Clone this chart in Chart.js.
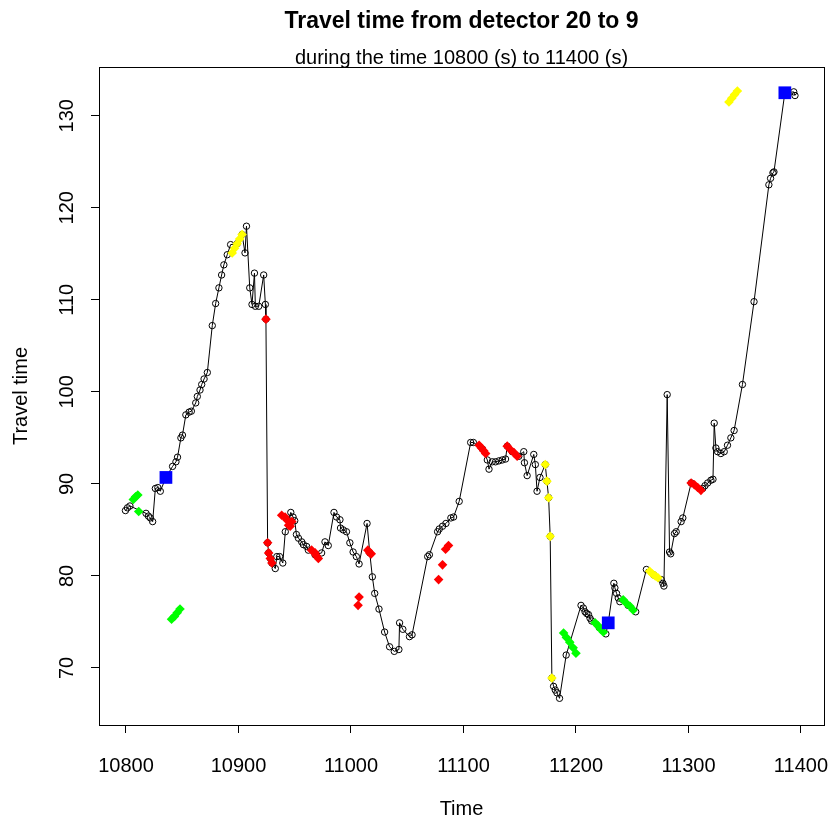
<!DOCTYPE html>
<html>
<head>
<meta charset="utf-8">
<script src="https://cdn.jsdelivr.net/npm/chart.js@4.4.0/dist/chart.umd.min.js"></script>
<style>
  html, body { margin: 0; padding: 0; background: #fff; }
  #wrap { width: 833px; height: 821px; }
</style>
</head>
<body>
<div id="wrap"><canvas id="chart"></canvas></div>
<script>
// axis ticks
const xTicks = [10800, 10900, 11000, 11100, 11200, 11300, 11400]
const yTicks = [70, 80, 90, 100, 110, 120, 130]

// travel time series (black line + open circles)
const blackTime = [
  10799.5, 10801.3, 10803.5, 10817.8, 10819.9, 10821.6, 10823.7, 10826.1, 10828.3, 10830.5,
  10835.5, 10841.4, 10844.4, 10845.8, 10848.8, 10850.2, 10853.2, 10856.1, 10858.1, 10862.0,
  10863.4, 10865.8, 10867.3, 10869.4, 10872.3, 10876.7, 10879.7, 10882.6, 10885.0, 10887.0,
  10890.0, 10893.0, 10898.8, 10903.2, 10905.8, 10907.1, 10910.0, 10912.0, 10914.2, 10915.0,
  10918.0, 10922.4, 10923.9, 10924.4, 10925.9, 10926.8, 10928.3, 10929.7, 10932.7, 10934.1,
  10936.5, 10939.4, 10941.6, 10946.5, 10948.5, 10950.0, 10951.5, 10953.3, 10956.2, 10957.7,
  10960.6, 10962.1, 10968.0, 10973.9, 10976.9, 10979.8, 10984.9, 10987.2, 10990.2, 10990.7,
  10993.1, 10996.0, 10999.0, 11001.9, 11004.8, 11007.2, 11014.3, 11016.7, 11019.0, 11021.1,
  11024.9, 11029.9, 11034.3, 11038.5, 11042.6, 11043.2, 11046.1, 11052.0, 11054.3, 11068.2,
  11069.7, 11077.0, 11078.5, 11081.4, 11084.4, 11088.8, 11091.2, 11096.2, 11106.4, 11108.8,
  11116.8, 11121.2, 11122.7, 11125.6, 11128.5, 11131.5, 11134.5, 11137.4, 11138.9, 11143.3,
  11149.2, 11153.6, 11154.2, 11156.6, 11162.5, 11163.9, 11165.4, 11168.0, 11172.7, 11174.2,
  11175.7, 11177.1, 11178.6, 11180.1, 11181.6, 11183.1, 11185.4, 11191.3, 11204.5, 11206.6,
  11208.1, 11209.6, 11211.1, 11212.5, 11214.0, 11220.6, 11226.6, 11228.7, 11233.7, 11234.6,
  11236.1, 11237.6, 11239.0, 11246.4, 11253.1, 11262.6, 11269.2, 11275.8, 11277.3, 11278.2,
  11281.1, 11283.2, 11284.2, 11287.6, 11289.1, 11293.5, 11295.0, 11302.4, 11312.7, 11314.7,
  11317.1, 11320.0, 11321.8, 11322.9, 11324.4, 11325.9, 11328.8, 11331.8, 11334.7, 11337.7,
  11340.6, 11348.0, 11358.3, 11371.5, 11373.0, 11375.1, 11376.0, 11385.7, 11393.6, 11394.7
]
const blackTravel = [
  87.1, 87.4, 87.6, 86.8, 86.5, 86.3, 85.9, 89.5, 89.6, 89.2,
  90.7, 91.9, 92.4, 92.9, 95.0, 95.3, 97.5, 97.8, 97.9, 98.8,
  99.5, 100.2, 100.8, 101.4, 102.1, 107.2, 109.6, 111.3, 112.7, 113.8,
  114.9, 116.0, 116.1, 117.1, 115.1, 118.0, 111.3, 109.5, 112.9, 109.3,
  109.3, 112.7, 109.5, 107.9, 83.6, 82.5, 81.9, 81.4, 80.8, 82.1,
  82.1, 81.4, 84.8, 86.9, 86.4, 86.0, 84.5, 84.1, 83.7, 83.4,
  83.2, 82.8, 82.3, 82.5, 83.7, 83.3, 86.9, 86.4, 86.1, 85.2,
  85.0, 84.8, 83.6, 82.6, 82.1, 81.3, 85.7, 82.5, 79.9, 78.1,
  76.4, 73.9, 72.3, 71.8, 72.0, 74.9, 74.2, 73.4, 73.6, 82.1,
  82.3, 84.8, 85.1, 85.4, 85.7, 86.3, 86.4, 88.1, 94.5, 94.5,
  93.8, 92.6, 91.6, 92.4, 92.4, 92.5, 92.6, 92.7, 94.1, 93.5,
  93.0, 93.5, 92.3, 90.9, 93.2, 92.1, 89.2, 90.7, 92.1, 90.3,
  88.5, 84.3, 68.9, 68.0, 67.6, 67.3, 66.7, 71.4, 76.8, 76.5,
  76.1, 75.9, 75.8, 75.4, 75.1, 74.4, 73.7, 74.9, 79.2, 78.7,
  78.1, 77.6, 77.2, 76.8, 76.1, 80.7, 80.1, 79.6, 79.2, 78.9,
  99.7, 82.6, 82.4, 84.6, 84.8, 85.9, 86.3, 90.1, 89.5, 89.8,
  90.1, 90.4, 90.5, 96.6, 93.9, 93.5, 93.3, 93.5, 94.2, 95.0,
  95.8, 100.8, 109.8, 122.5, 123.2, 123.8, 123.9, 132.5, 132.6, 132.2
]

// highlighted points
const greenTime = [10806.5, 10808.5, 10810.5, 10811.3, 10840.5, 10843.0, 10845.5, 10848.0,
  11189.0, 11191.5, 11194.5, 11197.5, 11200.0, 11217.0, 11219.5, 11222.0, 11224.3,
  11242.0, 11245.0, 11248.0, 11250.8]
const greenTravel = [88.3, 88.6, 88.8, 87.0, 75.3, 75.6, 76.0, 76.4,
  73.8, 73.3, 72.8, 72.2, 71.6, 74.9, 74.6, 74.2, 73.9,
  77.4, 77.0, 76.7, 76.3]

const redTime = [10924.4, 10925.9, 10926.8, 10928.3, 10929.7,
  10938.4, 10941.4, 10942.9, 10944.5, 10946.0, 10947.4,
  10965.0, 10968.1, 10969.2, 10971.0, 11006.3, 11007.2, 11015.0, 11016.7, 11018.0,
  11077.9, 11081.4, 11084.1, 11086.7, 11113.9, 11116.0, 11118.0, 11119.7,
  11138.9, 11141.8, 11144.8, 11147.7, 11302.4, 11305.3, 11308.2, 11311.1]
const redTravel = [107.9, 83.6, 82.5, 81.9, 81.4,
  86.6, 86.4, 86.1, 85.5, 85.4, 85.9,
  82.8, 82.5, 82.2, 81.9, 76.8, 77.7, 82.8, 82.5, 82.4,
  79.6, 81.2, 82.9, 83.3, 94.2, 93.9, 93.6, 93.3,
  94.1, 93.7, 93.4, 93.0, 90.1, 89.9, 89.6, 89.3]

const yellowTime = [10894.4, 10896.6, 10898.8, 10901.0, 10903.2,
  11172.7, 11174.2, 11175.7, 11177.1, 11178.6,
  11265.5, 11268.0, 11270.5, 11272.9, 11336.0, 11338.5, 11341.0, 11343.5]
const yellowTravel = [115.1, 115.6, 116.1, 116.6, 117.1,
  92.1, 90.3, 88.5, 84.3, 68.9,
  80.5, 80.2, 80.0, 79.8, 131.5, 131.9, 132.3, 132.7]

const blueTime = [10835.5, 11228.7, 11385.7]
const blueTravel = [90.7, 74.9, 132.5]

const pairs = (xs, ys) => xs.map((x, i) => ({ x, y: ys[i] }))

const FONT = '"Liberation Sans", Arial, sans-serif'

function rText(ctx, str, x, y, size, opts = {}) {
  ctx.save()
  ctx.font = `${opts.bold ? 'bold ' : ''}${size}px ${FONT}`
  ctx.fillStyle = '#000'
  ctx.textAlign = 'center'
  ctx.textBaseline = 'alphabetic'
  ctx.translate(x, y)
  if (opts.rot) ctx.rotate(opts.rot)
  ctx.fillText(str, 0, 0)
  ctx.restore()
}

// box, titles and tick labels drawn R-style
const rStyle = {
  id: 'rStyle',
  afterDraw(chart) {
    const { ctx, chartArea: a, scales } = chart
    ctx.save()
    ctx.strokeStyle = '#000'
    ctx.lineWidth = 1
    ctx.strokeRect(a.left + 0.5, a.top + 0.5, a.right - a.left, a.bottom - a.top)
    ctx.restore()

    const mid = (a.left + a.right) / 2
    rText(ctx, 'Travel time from detector 20 to 9', mid, 28, 23, { bold: true })
    rText(ctx, 'during the time 10800 (s) to 11400 (s)', mid, 64, 20)
    rText(ctx, 'Time', mid, 815, 20)
    rText(ctx, 'Travel time', 27, (a.top + a.bottom) / 2, 20, { rot: -Math.PI / 2 })

    xTicks.forEach(v => rText(ctx, String(v), scales.x.getPixelForValue(v), 772, 20))
    yTicks.forEach(v => rText(ctx, String(v), 73, scales.y.getPixelForValue(v), 20, { rot: -Math.PI / 2 }))
  }
}

const diamond = (data, color) => ({
  data,
  pointStyle: 'rectRot',
  pointRadius: 4.8,
  pointHoverRadius: 4.8,
  backgroundColor: color,
  borderWidth: 0,
  order: 2
})

new Chart(document.getElementById('chart'), {
  type: 'scatter',
  data: {
    datasets: [
      {
        data: pairs(blueTime, blueTravel),
        pointStyle: 'rect',
        pointRadius: 9,
        backgroundColor: '#0000FF',
        borderWidth: 0,
        order: 1
      },
      diamond(pairs(greenTime, greenTravel), '#00FF00'),
      diamond(pairs(redTime, redTravel), '#FF0000'),
      diamond(pairs(yellowTime, yellowTravel), '#FFFF00'),
      {
        data: pairs(blackTime, blackTravel),
        showLine: true,
        borderColor: '#000',
        borderWidth: 1,
        tension: 0,
        pointStyle: 'circle',
        pointRadius: 3.2,
        pointBorderColor: '#000',
        pointBorderWidth: 1,
        pointBackgroundColor: 'rgba(0,0,0,0)',
        order: 3
      }
    ]
  },
  options: {
    responsive: true,
    maintainAspectRatio: false,
    animation: false,
    layout: { padding: { left: 0, right: 4, top: 67, bottom: 0 } },
    plugins: { legend: { display: false }, tooltip: { enabled: false }, title: { display: false } },
    scales: {
      x: {
        type: 'linear',
        min: 10776,
        max: 11420.5,
        afterBuildTicks: s => { s.ticks = xTicks.map(v => ({ value: v })) },
        afterFit: s => { s.height = 96 },
        ticks: { display: false },
        grid: { drawOnChartArea: false, drawTicks: true, tickLength: 8, color: '#000', lineWidth: 1 },
        border: { display: false }
      },
      y: {
        type: 'linear',
        min: 63.8,
        max: 135.3,
        afterBuildTicks: s => { s.ticks = yTicks.map(v => ({ value: v })) },
        afterFit: s => { s.width = 99 },
        ticks: { display: false },
        grid: { drawOnChartArea: false, drawTicks: true, tickLength: 8, color: '#000', lineWidth: 1 },
        border: { display: false }
      }
    }
  },
  plugins: [rStyle]
})
</script>
</body>
</html>
